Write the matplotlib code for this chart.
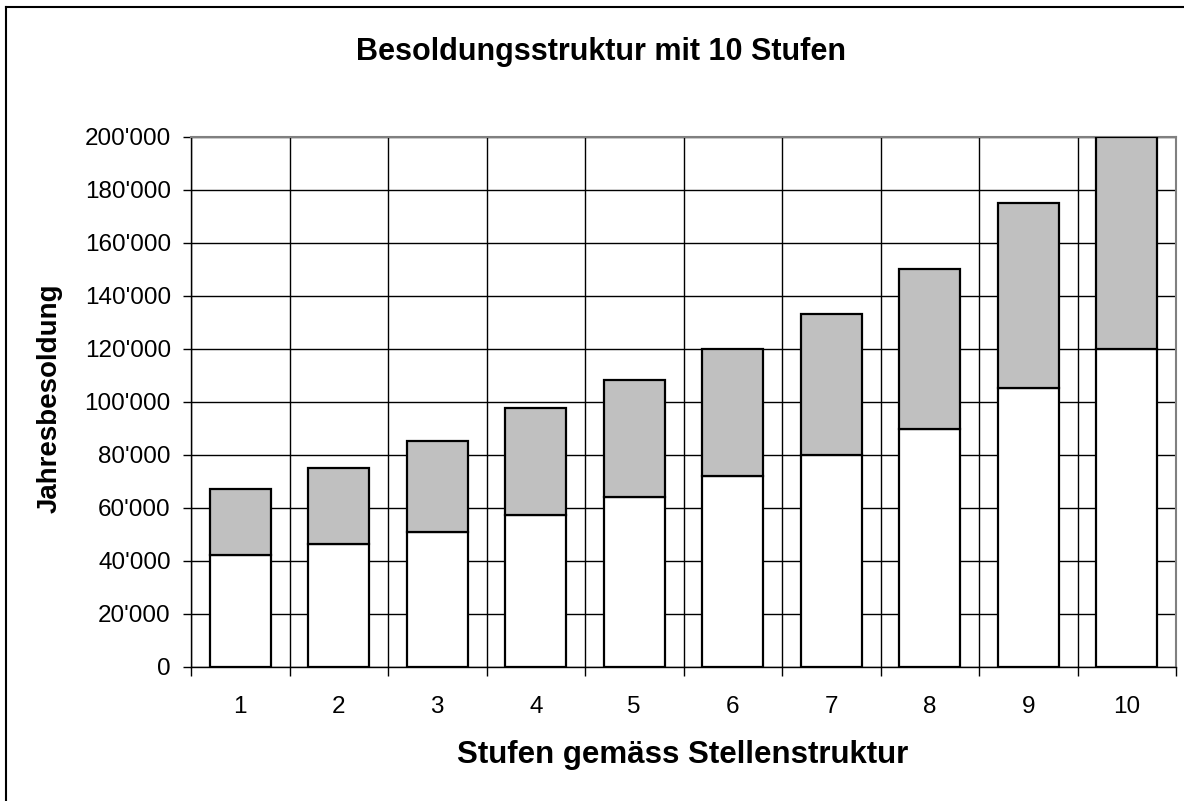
import matplotlib
matplotlib.use("Agg")
import matplotlib.pyplot as plt
from matplotlib.lines import Line2D
from matplotlib.ticker import FuncFormatter, FixedLocator
import numpy as np

plt.rcParams['font.family'] = ['Liberation Sans', 'DejaVu Sans']

stufen = ['1', '2', '3', '4', '5', '6', '7', '8', '9', '10']
minimum = [42000, 46300, 50700, 57200, 63800, 72000, 80000, 89600, 105000, 120000]
maximum = [67000, 75000, 85000, 97600, 108000, 120000, 133000, 150000, 175000, 200000]
title = 'Besoldungsstruktur mit 10 Stufen'
xlabel = 'Stufen gemäss Stellenstruktur'
ylabel = 'Jahresbesoldung'

W, H = 1184, 801
fig = plt.figure(figsize=(W / 100, H / 100), dpi=100)
L, R, T, B = 191, 1176, 136.5, 666.5
ax = fig.add_axes([L / W, 1 - B / H, (R - L) / W, (B - T) / H])

x = np.arange(len(stufen))
diff = [mx - mn for mx, mn in zip(maximum, minimum)]
bw = 0.62
ax.bar(x, minimum, width=bw, color='white', edgecolor='black', linewidth=1.6, zorder=3)
ax.bar(x, diff, bottom=minimum, width=bw, color='#C0C0C0', edgecolor='black', linewidth=1.6, zorder=3)

ax.set_xlim(-0.5, len(stufen) - 0.5)
ax.set_ylim(0, 200000)
ax.yaxis.set_major_locator(FixedLocator(np.arange(0, 200001, 20000)))
ax.yaxis.set_major_formatter(FuncFormatter(lambda v, p: f"{int(v):,}".replace(',', "'")))

ax.set_xticks(x)
ax.set_xticklabels(stufen)
ax.tick_params(axis='x', length=0, labelsize=17.5, pad=21)
ax.set_xticks(np.arange(-0.5, len(stufen), 1), minor=True)
ax.tick_params(axis='x', which='minor', length=6.5, width=1, color='black', direction='out')
ax.tick_params(axis='y', length=6, width=1, labelsize=17.5, pad=8.5, direction='out')

ax.grid(True, axis='y', which='major', color='black', linewidth=1, zorder=1)
ax.grid(True, axis='x', which='minor', color='black', linewidth=1, zorder=1)
ax.set_axisbelow(True)

for s in ['top', 'right']:
    ax.spines[s].set_color('#808080')
    ax.spines[s].set_linewidth(1.5)
for s in ['left', 'bottom']:
    ax.spines[s].set_color('black')
    ax.spines[s].set_linewidth(1)

fig.text(601 / W, 1 - 52 / H, title, ha='center', va='center', fontsize=22, fontweight='bold')
fig.text(683 / W, 1 - 755 / H, xlabel, ha='center', va='center', fontsize=22.5, fontweight='bold')
fig.text(50 / W, 1 - 398 / H, ylabel, ha='center', va='center', fontsize=20, fontweight='bold', rotation=90)

# figure border (left and top)
fig.add_artist(Line2D([6 / W, 6 / W], [0, 1 - 7 / H], transform=fig.transFigure, color='black', linewidth=1.5))
fig.add_artist(Line2D([6 / W, 1], [1 - 7 / H, 1 - 7 / H], transform=fig.transFigure, color='black', linewidth=1.5))

fig.savefig('out.png', dpi=100)
